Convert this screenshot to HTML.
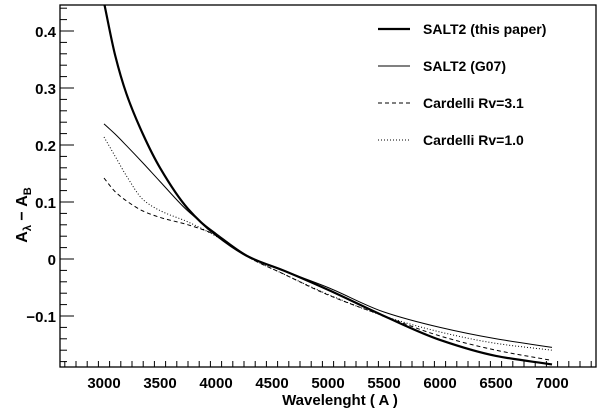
<!DOCTYPE html>
<html><head><meta charset="utf-8"><style>
body{margin:0;background:#fff}
svg text{font-family:"Liberation Sans",sans-serif;font-weight:bold}
</style></head><body>
<svg width="600" height="409" viewBox="0 0 600 409" xmlns="http://www.w3.org/2000/svg">
<g id="plot"></g>
</svg>
<script>
const wavelengths=[3000,3100,3200,3350,3500,3750,4000,4300,4600,5000,5500,6000,6500,7000];
const salt2This=[0.45,0.357,0.29,0.218,0.16,0.088,0.042,0.003,-0.02,-0.054,-0.1,-0.142,-0.17,-0.185];
const salt2G07=[0.237,0.219,0.199,0.168,0.136,0.084,0.045,0.004,-0.02,-0.05,-0.093,-0.12,-0.14,-0.155];
const cardelli31=[0.142,0.118,0.102,0.084,0.073,0.06,0.042,0.002,-0.026,-0.063,-0.1,-0.135,-0.16,-0.178];
const cardelli10=[0.214,0.18,0.146,0.104,0.085,0.065,0.04,0.002,-0.026,-0.062,-0.1,-0.128,-0.148,-0.16];
const xTicks=[3000,3500,4000,4500,5000,5500,6000,6500,7000];
const yTicks=[-0.1,0,0.1,0.2,0.3,0.4];
const yTickLabels=["\u22120.1","0","0.1","0.2","0.3","0.4"];
const L=60,R=596,T=5,B=367;
const xs=v=>104+(v-3000)*0.112;
const ys=v=>259-v*570;
const NS="http://www.w3.org/2000/svg";
const g=document.getElementById('plot');
function mk(t,a){const e=document.createElementNS(NS,t);for(const k in a)e.setAttribute(k,a[k]);g.appendChild(e);return e;}
const clip=mk('clipPath',{id:'c'});const cr=document.createElementNS(NS,'rect');cr.setAttribute('x',L);cr.setAttribute('y',T);cr.setAttribute('width',R-L);cr.setAttribute('height',B-T);clip.appendChild(cr);
for(let v=2650;v<=7400;v+=100){const maj=v%500===0;const t=mk('line',{x1:xs(v),x2:xs(v),y1:B,y2:B-(maj?12:6),stroke:'#000','stroke-width':1});
}
for(let i=-18;i<=44;i+=2){const v=i/100;const maj=i%10===0;const t=mk('line',{x1:L,x2:L+(maj?14:7),y1:ys(v),y2:ys(v),stroke:'#000','stroke-width':1});
}
xTicks.forEach(v=>{const t=mk('text',{x:xs(v),y:388,'text-anchor':'middle','font-size':15});t.textContent=v;
});
yTicks.forEach((v,i)=>{const t=mk('text',{x:56,y:ys(v)+6,'text-anchor':'end','font-size':15});t.textContent=yTickLabels[i];
});
function path(arr,w,dash,name){
const P=wavelengths.map((x,i)=>[xs(x),ys(arr[i])]);const n=P.length;
const dx=[],s=[];for(let i=0;i<n-1;i++){dx.push(P[i+1][0]-P[i][0]);s.push((P[i+1][1]-P[i][1])/dx[i]);}
const m=[s[0]];for(let i=1;i<n-1;i++){if(s[i-1]*s[i]<=0)m.push(0);else{const w1=2*dx[i]+dx[i-1],w2=dx[i]+2*dx[i-1];m.push((w1+w2)/(w1/s[i-1]+w2/s[i]));}}m.push(s[n-2]);
let d='M'+P[0][0]+','+P[0][1];
for(let i=0;i<n-1;i++){const h=dx[i]/3;d+=' C'+(P[i][0]+h)+','+(P[i][1]+m[i]*h)+' '+(P[i+1][0]-h)+','+(P[i+1][1]-m[i+1]*h)+' '+P[i+1][0]+','+P[i+1][1];}
const e=mk('path',{d:d,fill:'none',stroke:'#000','stroke-width':w,'clip-path':'url(#c)'});if(dash)e.setAttribute('stroke-dasharray',dash);
}
path(salt2This,2.2,null,'series-salt2-this-paper');
path(salt2G07,1,null,'series-salt2-g07');
path(cardelli31,1,'4,3','series-cardelli-rv31');
path(cardelli10,1,'1,2','series-cardelli-rv10');
const fr=mk('rect',{x:L,y:T,width:R-L,height:B-T,fill:'none',stroke:'#000','stroke-width':1.3});

const leg=[["SALT2 (this paper)",2.2,null,29],["SALT2 (G07)",1,null,66],["Cardelli Rv=3.1",1,'4,3',103],["Cardelli Rv=1.0",1,'1,2',140]];
leg.forEach(l=>{const ln=mk('line',{x1:378,x2:410,y1:l[3],y2:l[3],stroke:'#000','stroke-width':l[1]});if(l[2])ln.setAttribute('stroke-dasharray',l[2]);

const t=mk('text',{x:423,y:l[3]+5,'font-size':14});t.textContent=l[0];
});
const xt=mk('text',{x:340,y:405,'text-anchor':'middle','font-size':15});xt.textContent='Wavelenght ( A )';

const yt=mk('text',{x:0,y:0,'text-anchor':'middle','font-size':16,transform:'translate(27,215) rotate(-90)'});
yt.innerHTML='A<tspan font-size="11" dy="4">\u03bb</tspan><tspan dy="-4"> \u2212 A</tspan><tspan font-size="11" dy="4">B</tspan>';

</script>
</body></html>
